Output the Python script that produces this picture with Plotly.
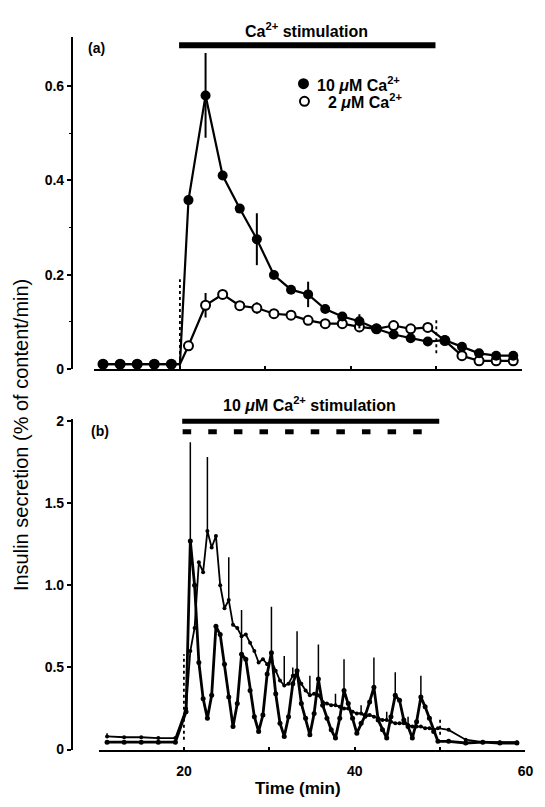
import plotly.graph_objects as go

W, H = 545, 807
FONT = "Liberation Sans"

# ---------------- Panel (a) data ----------------
t_a = [11, 13, 15, 17, 19, 20, 21, 23, 25, 27, 29, 31, 33, 35, 37, 39, 41, 43, 45, 47, 49, 51, 53, 55, 57, 59]
ca10_a = [0.01, 0.01, 0.01, 0.01, 0.01, 0.01, 0.358, 0.58, 0.41, 0.34, 0.275, 0.199, 0.168, 0.158, 0.127,
          0.111, 0.101, 0.085, 0.073, 0.065, 0.058, 0.061, 0.047, 0.033, 0.028, 0.028]
ca2_a = [0.01, 0.01, 0.01, 0.01, 0.01, 0.01, 0.049, 0.135, 0.158, 0.134, 0.129, 0.117, 0.114, 0.103, 0.096,
         0.096, 0.089, 0.085, 0.092, 0.085, 0.088, 0.06, 0.028, 0.017, 0.017, 0.017]
# error bars (time -> SEM)
err_ca10_a = {23: 0.09, 29: 0.055, 35: 0.027, 41: 0.015}
err_ca2_a = {23: 0.026, 29: 0.012, 35: 0.01}
shown_a = [True, True, True, True, True, False] + [True] * 20

# ---------------- Panel (b) data ----------------
t_b = [11, 13, 15, 17, 19,
       20.25, 20.75, 21.25, 21.75, 22.25, 22.75, 23.25, 23.75, 24.25, 24.75,
       25.25, 25.75, 26.25, 26.75, 27.25, 27.75, 28.25, 28.75, 29.25, 29.75,
       30.25, 30.75, 31.25, 31.75, 32.25, 32.75, 33.25, 33.75, 34.25, 34.75,
       35.25, 35.75, 36.25, 36.75, 37.25, 37.75, 38.25, 38.75, 39.25, 39.75,
       40.25, 40.75, 41.25, 41.75, 42.25, 42.75, 43.25, 43.75, 44.25, 44.75,
       45.25, 45.75, 46.25, 46.75, 47.25, 47.75, 48.25, 48.75, 49.25, 49.75,
       51, 53, 55, 57, 59]
pulsatile_b = [0.045, 0.045, 0.045, 0.045, 0.045,
               0.23, 1.27, 1.00, 0.53, 0.31, 0.19, 0.33, 0.75, 0.70, 0.52,
               0.32, 0.14, 0.28, 0.58, 0.55, 0.36, 0.20, 0.11, 0.21, 0.46,
               0.59, 0.34, 0.16, 0.08, 0.20, 0.40, 0.48, 0.28, 0.19, 0.09,
               0.22, 0.43, 0.27, 0.19, 0.12, 0.07, 0.19, 0.36, 0.28, 0.19,
               0.10, 0.16, 0.21, 0.29, 0.38, 0.18, 0.12, 0.07, 0.20, 0.33,
               0.30, 0.18, 0.14, 0.07, 0.17, 0.32, 0.26, 0.19, 0.11, 0.05,
               0.05, 0.04, 0.045, 0.04, 0.04]
continuous_b = [0.08, 0.075, 0.075, 0.07, 0.07,
                0.25, 0.60, 0.74, 1.14, 1.08, 1.33, 1.23, 1.30, 1.00, 0.86,
                0.91, 0.76, 0.74, 0.69, 0.70, 0.65, 0.60, 0.53, 0.55, 0.52,
                0.54, 0.48, 0.42, 0.39, 0.40, 0.45, 0.46, 0.40, 0.36, 0.33,
                0.34, 0.33, 0.29, 0.28, 0.27, 0.27, 0.26, 0.25, 0.25, 0.23,
                0.22, 0.22, 0.20, 0.21, 0.20, 0.19, 0.18, 0.18, 0.17, 0.16,
                0.16, 0.16, 0.15, 0.14, 0.14, 0.14, 0.13, 0.13, 0.12, 0.13,
                0.12, 0.06, 0.045, 0.045, 0.045]
err_pulsatile_b = {20.75: 0.6, 26.75: 0.27, 30.25: 0.28, 33.25: 0.24, 35.75: 0.21,
                   38.75: 0.19, 42.25: 0.18, 44.75: 0.14, 47.75: 0.13}
err_continuous_b = {11: 0.02, 22.75: 0.45, 25.25: 0.26, 31.75: 0.18, 32.75: 0.05, 34.75: 0.12,
                    37.75: 0.07, 40.75: 0.05, 43.75: 0.05, 46.25: 0.05}

stim_start, stim_end = 20, 50
pulse_starts = [20, 23, 26, 29, 32, 35, 38, 41, 44, 47]
pulse_len = 1.0
onset_dots_a = {"start": (0.006, 0.19), "end": (0.033, 0.106)}
onset_dots_b = {"start": (0.06, 0.58), "end": (0.09, 0.2)}

tick_a = [0, 0.2, 0.4, 0.6]
tick_a_text = ["0", "0.2", "0.4", "0.6"]
tick_b = [0, 0.5, 1.0, 1.5, 2]
tick_b_text = ["0", "0.5", "1.0", "1.5", "2"]
xtick_b = [20, 30, 40, 50, 60]
xtick_b_text = ["20", "", "40", "", "60"]


def px_x(p):
    return p / W


def px_y(p):
    return (H - p) / H


fig = go.Figure()

# ---- panel a ----
fig.add_trace(go.Scatter(
    x=t_a, y=ca2_a, mode="lines+markers", xaxis="x", yaxis="y",
    line=dict(color="black", width=2.2),
    marker=dict(size=[9 if s else 0 for s in shown_a], color="white", opacity=1,
                line=dict(color="black", width=2)),
    error_y=dict(type="data", array=[err_ca2_a.get(t, 0) for t in t_a],
                 color="black", thickness=2, width=0),
    showlegend=False))
fig.add_trace(go.Scatter(
    x=t_a, y=ca10_a, mode="lines+markers", xaxis="x", yaxis="y",
    line=dict(color="black", width=2.2),
    marker=dict(size=[10 if s else 0 for s in shown_a], color="black", opacity=1,
                line=dict(color="black", width=0)),
    error_y=dict(type="data", array=[err_ca10_a.get(t, 0) for t in t_a],
                 color="black", thickness=2, width=0),
    showlegend=False))

# ---- panel b ----
fig.add_trace(go.Scatter(
    x=t_b, y=continuous_b, mode="lines+markers", xaxis="x2", yaxis="y2",
    line=dict(color="black", width=1.8),
    marker=dict(size=4, color="black", opacity=1),
    error_y=dict(type="data", symmetric=False,
                 array=[err_continuous_b.get(t, 0) for t in t_b],
                 arrayminus=[0] * len(t_b), color="black", thickness=1.5, width=0),
    showlegend=False))
fig.add_trace(go.Scatter(
    x=t_b, y=pulsatile_b, mode="lines+markers", xaxis="x2", yaxis="y2",
    line=dict(color="black", width=2.8),
    marker=dict(size=5, color="black", opacity=1),
    error_y=dict(type="data", symmetric=False,
                 array=[err_pulsatile_b.get(t, 0) for t in t_b],
                 arrayminus=[0] * len(t_b), color="black", thickness=1.5, width=0),
    showlegend=False))

shapes = []
# stimulation bars
shapes.append(dict(type="line", xref="x", yref="paper", x0=stim_start - 0.1, x1=stim_end - 0.1,
                   y0=px_y(40), y1=px_y(40), line=dict(color="black", width=6)))
shapes.append(dict(type="line", xref="x2", yref="paper", x0=stim_start - 0.2, x1=stim_end - 0.1,
                   y0=px_y(422.7), y1=px_y(422.7), line=dict(color="black", width=5)))
for s in pulse_starts:
    shapes.append(dict(type="line", xref="x2", yref="paper", x0=s - 0.15, x1=s - 0.15 + pulse_len,
                       y0=px_y(433.3), y1=px_y(433.3), line=dict(color="black", width=5)))
# dotted onset / offset marks
for key, xv in (("start", stim_start), ("end", stim_end)):
    y0, y1 = onset_dots_a[key]
    shapes.append(dict(type="line", xref="x", yref="y", x0=xv, x1=xv, y0=y0, y1=y1,
                       line=dict(color="black", width=1.8, dash="dot")))
    y0, y1 = onset_dots_b[key]
    shapes.append(dict(type="line", xref="x2", yref="y2", x0=xv, x1=xv, y0=y0, y1=y1,
                       line=dict(color="black", width=1.8, dash="dot")))
# legend symbols
for (cx, cy, fill) in ((308, 79, "black"), (309, 97, "white")):
    shapes.append(dict(type="circle", xref="paper", yref="paper", xsizemode="pixel", ysizemode="pixel",
                       xanchor=px_x(cx), yanchor=px_y(cy), x0=-4.5, x1=4.5, y0=-4.5, y1=4.5,
                       fillcolor=fill, line=dict(color="black", width=2)))

bold = dict(family=FONT, size=16, color="black", weight="bold")
annotations = [
    dict(text="Ca<sup>2+</sup> stimulation", x=px_x(311), y=px_y(24), font=bold),
    dict(text="10 <i>μ</i>M Ca<sup>2+</sup> stimulation", x=px_x(314), y=px_y(405), font=bold),
    dict(text="(a)", x=px_x(98), y=px_y(43), font=dict(family=FONT, size=14, color="black", weight="bold")),
    dict(text="(b)", x=px_x(101), y=px_y(432), font=dict(family=FONT, size=14, color="black", weight="bold")),
    dict(text="10 <i>μ</i>M Ca<sup>2+</sup>", x=px_x(320), y=px_y(79), xanchor="left", font=bold),
    dict(text="2 <i>μ</i>M Ca<sup>2+</sup>", x=px_x(331), y=px_y(97), xanchor="left", font=bold),
    dict(text="Insulin secretion (% of content/min)", x=px_x(22), y=px_y(437), textangle=-90,
         font=dict(family=FONT, size=20, color="black")),
    dict(text="Time (min)", x=px_x(302), y=px_y(796), font=dict(family=FONT, size=17, color="black", weight="bold")),
]
for a in annotations:
    a.update(xref="paper", yref="paper", showarrow=False)
    a.setdefault("xanchor", "center")
    a.setdefault("yanchor", "middle")

tickfont = dict(family=FONT, size=14, color="black", weight="bold")
fig.update_layout(
    width=W, height=H, margin=dict(l=0, r=0, t=0, b=0),
    paper_bgcolor="white", plot_bgcolor="white",
    shapes=shapes, annotations=annotations, showlegend=False,
    xaxis=dict(domain=[px_x(95), px_x(530)], range=[9.9, 60.05], anchor="y",
               showline=True, linecolor="black", linewidth=2, showgrid=False, zeroline=False,
               tickmode="array", tickvals=[20, 30, 40, 50], showticklabels=False,
               ticks="inside", ticklen=3, tickwidth=2, tickcolor="black"),
    yaxis=dict(domain=[px_y(369.3), px_y(32)], range=[0, 0.703], anchor="free", position=px_x(73),
               showline=True, linecolor="black", linewidth=2, showgrid=False, zeroline=False,
               tickmode="array", tickvals=tick_a, ticktext=tick_a_text, tickfont=tickfont,
               ticks="outside", ticklen=4, tickwidth=2, tickcolor="black",
               minor=dict(tickmode="array", tickvals=[0.1, 0.3, 0.5], ticks="outside",
                          ticklen=2, tickwidth=1, tickcolor="black")),
    xaxis2=dict(domain=[px_x(100), px_x(533.3)], range=[10, 60], anchor="y2",
                showline=True, linecolor="black", linewidth=2, showgrid=False, zeroline=False,
                tickmode="array", tickvals=xtick_b, ticktext=xtick_b_text, tickfont=tickfont,
                ticks="inside", ticklen=3, tickwidth=2, tickcolor="black", ticklabelstandoff=8),
    yaxis2=dict(domain=[px_y(756.7), px_y(420.7)], range=[0, 2.0096], anchor="free", position=px_x(73),
                showline=True, linecolor="black", linewidth=2, showgrid=False, zeroline=False,
                tickmode="array", tickvals=tick_b, ticktext=tick_b_text, tickfont=tickfont,
                ticks="outside", ticklen=4, tickwidth=2, tickcolor="black"),
)

fig.write_html("out.html")
